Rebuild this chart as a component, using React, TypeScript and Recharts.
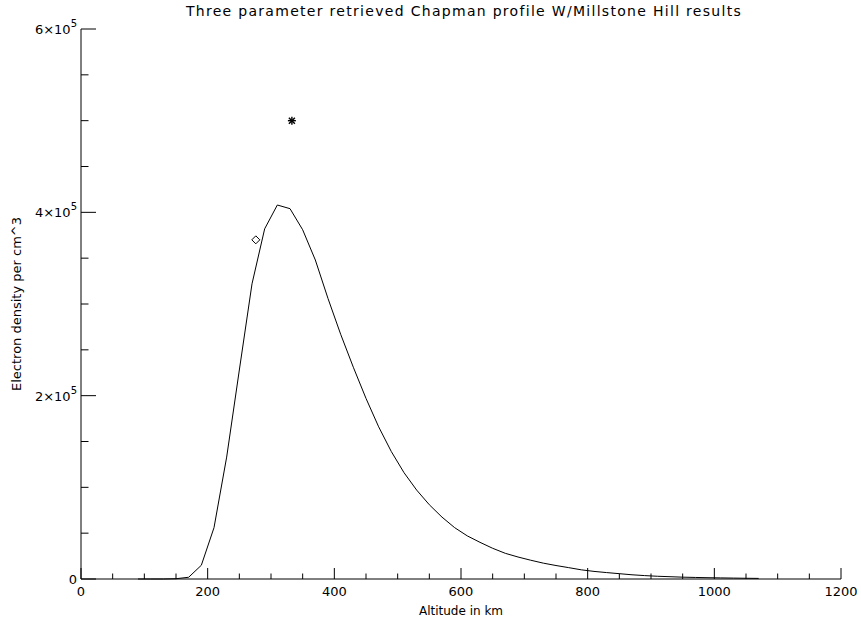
import React from 'react';
import { ComposedChart, Line, Scatter, XAxis, YAxis, Label } from 'recharts';

// retrieved Chapman profile (km, electrons per cm^3)
const ALTITUDE = [
  90, 110, 130, 150, 170, 190, 210, 230, 250, 270, 290, 310, 330, 350, 370, 390, 410, 430, 450, 470,
  490, 510, 530, 550, 570, 590, 610, 630, 650, 670, 690, 710, 730, 750, 770, 790, 810, 830, 850, 870,
  890, 910, 930, 950, 970, 990, 1010, 1030, 1050, 1070,
];
const DENSITY = [
  0, 0, 0, 300, 1900, 15000, 56000, 133000, 228000, 322000, 382000, 408000, 404000, 381000, 348000,
  306000, 267000, 231000, 197000, 166000, 139000, 116000, 97000, 81000, 67500, 56000, 47000, 40000,
  33500, 28000, 24000, 20500, 17300, 14700, 12400, 10000, 8300, 7000, 5800, 4600, 3700, 3000, 2500,
  2000, 1700, 1400, 1200, 1000, 800, 650,
];

// Millstone Hill results
const MILLSTONE_DIAMOND = [{ alt: 276, ne: 370000 }];
const MILLSTONE_STAR = [{ alt: 333, ne: 500000 }];

const X_MAJOR = [0, 200, 400, 600, 800, 1000, 1200];
const Y_MAJOR = [0, 200000, 400000, 600000];
const X_TICKS = Array.from({ length: 25 }, (_, i) => i * 50);
const Y_TICKS = Array.from({ length: 13 }, (_, i) => i * 50000);

const lineData = ALTITUDE.map((alt, i) => ({ alt, ne: DENSITY[i] }));

const FONT = '"DejaVu Sans", sans-serif';

const yLabel = (v: number) => {
  if (v === 0) return <>0</>;
  return (
    <>
      {`${v / 100000}×10`}
      <tspan dy={-7} fontSize={10}>5</tspan>
    </>
  );
};

const BottomTick = ({ x, y, payload }: any) => {
  const major = X_MAJOR.includes(payload.value);
  return (
    <g>
      <line x1={x} x2={x} y1={y} y2={y - (major ? 11 : 5.5)} stroke="#000" />
      {major && (
        <text x={x} y={y + 17} textAnchor="middle" fontSize={13} fontFamily={FONT} fill="#000">
          {payload.value}
        </text>
      )}
    </g>
  );
};

const TopTick = ({ x, y, payload }: any) => {
  const major = X_MAJOR.includes(payload.value);
  return <line x1={x} x2={x} y1={y} y2={y + (major ? 11 : 5.5)} stroke="#000" />;
};

const LeftTick = ({ x, y, payload }: any) => {
  const major = Y_MAJOR.includes(payload.value);
  return (
    <g>
      <line x1={x} x2={x + (major ? 15 : 7.5)} y1={y} y2={y} stroke="#000" />
      {major && (
        <text x={x - 4} y={y + 5} textAnchor="end" fontSize={13} fontFamily={FONT} fill="#000">
          {yLabel(payload.value)}
        </text>
      )}
    </g>
  );
};

const RightTick = ({ x, y, payload }: any) => {
  const major = Y_MAJOR.includes(payload.value);
  return <line x1={x} x2={x - (major ? 15 : 7.5)} y1={y} y2={y} stroke="#000" />;
};

const Diamond = ({ cx, cy }: any) => (
  <path d={`M${cx},${cy - 4}L${cx + 4},${cy}L${cx},${cy + 4}L${cx - 4},${cy}Z`} fill="none" stroke="#000" />
);

const Star = ({ cx, cy }: any) => (
  <g stroke="#000" strokeWidth={1.4}>
    <line x1={cx - 4} x2={cx + 4} y1={cy} y2={cy} />
    <line x1={cx} x2={cx} y1={cy - 4} y2={cy + 4} />
    <line x1={cx - 3} x2={cx + 3} y1={cy - 3} y2={cy + 3} />
    <line x1={cx - 3} x2={cx + 3} y1={cy + 3} y2={cy - 3} />
  </g>
);

export default function App() {
  return (
    <div style={{ position: 'absolute', left: 0, top: 0, width: 861, height: 623, background: '#fff' }}>
      <div
        style={{
          position: 'absolute',
          left: 0,
          top: 3,
          width: 928,
          textAlign: 'center',
          fontFamily: FONT,
          fontSize: 14,
          letterSpacing: 1.3,
          color: '#000',
        }}
      >
        Three parameter retrieved Chapman profile W/Millstone Hill results
      </div>
      <ComposedChart width={861} height={623} margin={{ top: 29, right: 20, bottom: 0, left: 0 }}>
        <XAxis
          xAxisId="bottom"
          dataKey="alt"
          type="number"
          domain={[0, 1200]}
          ticks={X_TICKS}
          interval={0}
          height={44}
          tickSize={0}
          tickMargin={0}
          tick={BottomTick}
          axisLine={{ stroke: '#000' }}
        >
          <Label
            content={({ viewBox }: any) => (
              <text
                x={viewBox.x + viewBox.width / 2}
                y={viewBox.y + 36}
                textAnchor="middle"
                fontSize={12}
                fontFamily={FONT}
                fill="#000"
              >
                Altitude in km
              </text>
            )}
          />
        </XAxis>
        <XAxis
          xAxisId="top"
          orientation="top"
          dataKey="alt"
          type="number"
          domain={[0, 1200]}
          ticks={X_TICKS}
          interval={0}
          height={0}
          tickSize={0}
          tickMargin={0}
          tick={TopTick}
          axisLine={{ stroke: '#000' }}
        />
        <YAxis
          yAxisId="left"
          dataKey="ne"
          type="number"
          domain={[0, 600000]}
          ticks={Y_TICKS}
          interval={0}
          width={81}
          tickSize={0}
          tickMargin={0}
          tick={LeftTick}
          axisLine={{ stroke: '#000' }}
        >
          <Label
            content={({ viewBox }: any) => {
              const cx = 21;
              const cy = viewBox.y + viewBox.height / 2;
              return (
                <text
                  x={cx}
                  y={cy}
                  transform={`rotate(-90 ${cx} ${cy})`}
                  textAnchor="middle"
                  fontSize={13}
                  fontFamily={FONT}
                  fill="#000"
                >
                  Electron density per cm^3
                </text>
              );
            }}
          />
        </YAxis>
        <YAxis
          yAxisId="right"
          orientation="right"
          dataKey="ne"
          type="number"
          domain={[0, 600000]}
          ticks={Y_TICKS}
          interval={0}
          width={0}
          tickSize={0}
          tickMargin={0}
          tick={RightTick}
          axisLine={{ stroke: '#000' }}
        />
        <Line
          xAxisId="bottom"
          yAxisId="left"
          data={lineData}
          dataKey="ne"
          type="linear"
          stroke="#000"
          strokeWidth={1}
          dot={false}
          isAnimationActive={false}
        />
        <Scatter
          xAxisId="bottom"
          yAxisId="left"
          data={MILLSTONE_DIAMOND}
          dataKey="ne"
          shape={Diamond}
          isAnimationActive={false}
        />
        <Scatter
          xAxisId="bottom"
          yAxisId="left"
          data={MILLSTONE_STAR}
          dataKey="ne"
          shape={Star}
          isAnimationActive={false}
        />
      </ComposedChart>
    </div>
  );
}
